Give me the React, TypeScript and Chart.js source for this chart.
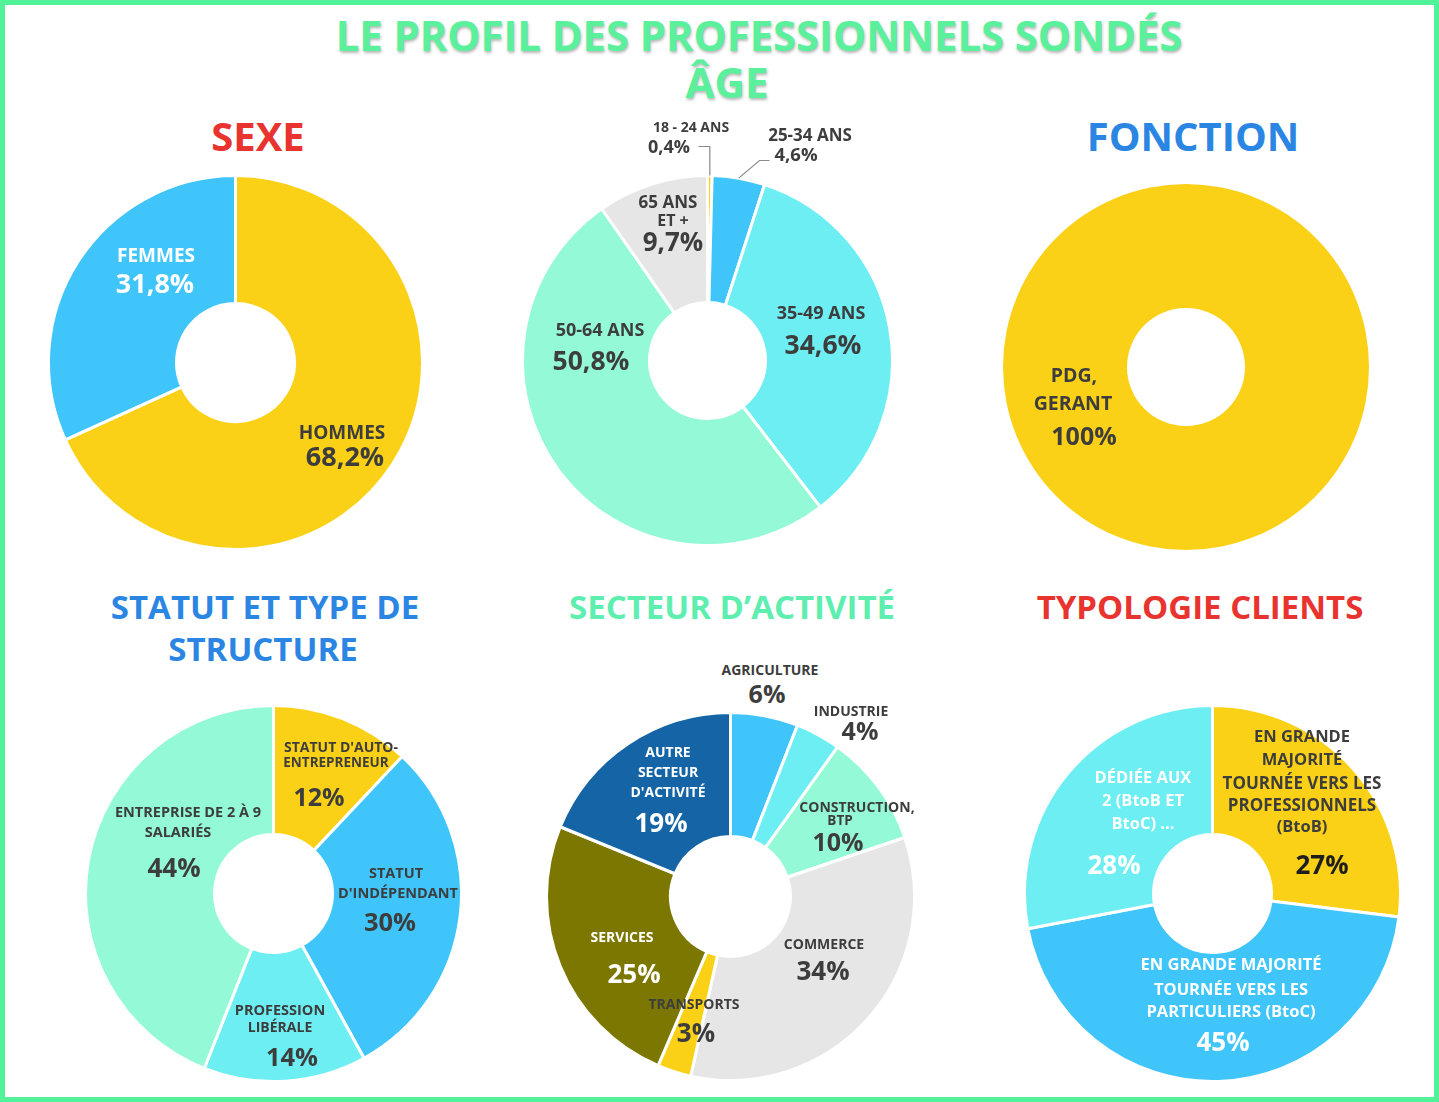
import React, { useEffect, useRef } from "react";
import { Chart, registerables } from "chart.js";

Chart.register(...registerables);

// ---------- DATA ----------
const sexeLabels = ["HOMMES", "FEMMES"];
const sexeValues = [68.2, 31.8];

const ageLabels = ["18 - 24 ANS", "25-34 ANS", "35-49 ANS", "50-64 ANS", "65 ANS ET +"];
const ageValues = [0.4, 4.6, 34.6, 50.8, 9.7];

const fonctionLabels = ["PDG, GERANT"];
const fonctionValues = [100];

const statutLabels = [
  "STATUT D'AUTO-ENTREPRENEUR",
  "STATUT D'INDÉPENDANT",
  "PROFESSION LIBÉRALE",
  "ENTREPRISE DE 2 À 9 SALARIÉS",
];
const statutValues = [12, 30, 14, 44];

const secteurLabels = [
  "AGRICULTURE",
  "INDUSTRIE",
  "CONSTRUCTION, BTP",
  "COMMERCE",
  "TRANSPORTS",
  "SERVICES",
  "AUTRE SECTEUR D'ACTIVITÉ",
];
const secteurValues = [6, 4, 10, 34, 3, 25, 19];

const typoLabels = [
  "EN GRANDE MAJORITÉ TOURNÉE VERS LES PROFESSIONNELS (BtoB)",
  "EN GRANDE MAJORITÉ TOURNÉE VERS LES PARTICULIERS (BtoC)",
  "DÉDIÉE AUX 2 (BtoB ET BtoC) ...",
];
const typoValues = [27, 45, 28];

// ---------- STYLE ----------
const YELLOW = "#FAD116";
const BLUE = "#3FC5FA";
const CYAN = "#6DEEF3";
const MINT = "#93F9D7";
const GRAY = "#E6E6E6";
const OLIVE = "#7C7700";
const DARKBLUE = "#1565A6";
const TXT = "#3D3D3D";
const WHITE = "#FFFFFF";
const FONT = "'Open Sans', 'DejaVu Sans', sans-serif";

const pct = (v: number) => String(v).replace(".", ",") + "%";

type LeaderDef = { index: number; elbowY: number; endX: number; endY: number; diag?: boolean };

function makeLeaderPlugin(leaders: LeaderDef[], offX: number, offY: number) {
  return {
    id: "leaders",
    afterDraw(chart: any) {
      const meta = chart.getDatasetMeta(0);
      const ctx = chart.ctx;
      ctx.save();
      ctx.strokeStyle = "#8A8A8A";
      ctx.lineWidth = 1.2;
      leaders.forEach((l) => {
        const arc = meta.data[l.index];
        const p = arc.getProps(["x", "y", "startAngle", "endAngle", "outerRadius"], true);
        const mid = (p.startAngle + p.endAngle) / 2;
        const sx = p.x + Math.cos(mid) * p.outerRadius;
        const sy = p.y + Math.sin(mid) * p.outerRadius;
        ctx.beginPath();
        ctx.moveTo(sx, sy);
        if (l.diag) {
          ctx.lineTo(l.endX - offX - 10, l.elbowY - offY);
          ctx.lineTo(l.endX - offX, l.endY - offY);
        } else {
          ctx.lineTo(sx, l.elbowY - offY);
          ctx.lineTo(l.endX - offX, l.endY - offY);
        }
        ctx.stroke();
      });
      ctx.restore();
    },
  };
}

type DonutProps = {
  cx: number;
  cy: number;
  r: number;
  inner: number;
  labels: string[];
  values: number[];
  colors: string[];
  border: number;
  padTop?: number;
  leaders?: LeaderDef[];
};

function Donut({ cx, cy, r, inner, labels, values, colors, border, padTop = 0, leaders }: DonutProps) {
  const ref = useRef<HTMLCanvasElement>(null);
  const size = 2 * r + border;
  const left = cx - size / 2;
  const top = cy - size / 2 - padTop;
  const h = size + padTop;
  useEffect(() => {
    const plugins: any[] = [];
    if (leaders) plugins.push(makeLeaderPlugin(leaders, left, top));
    const chart = new Chart(ref.current as HTMLCanvasElement, {
      type: "doughnut",
      data: {
        labels,
        datasets: [
          {
            data: values,
            backgroundColor: colors,
            borderColor: "#FFFFFF",
            borderWidth: border,
            hoverBorderWidth: border,
            hoverOffset: 0,
          } as any,
        ],
      },
      options: {
        responsive: false,
        maintainAspectRatio: false,
        animation: false,
        devicePixelRatio: 1,
        cutout: inner,
        layout: { padding: { top: padTop, left: 0, right: 0, bottom: 0 } },
        events: [],
        plugins: { legend: { display: false }, tooltip: { enabled: false } },
      } as any,
      plugins,
    });
    return () => chart.destroy();
  }, []);
  return (
    <canvas
      ref={ref}
      width={size}
      height={h}
      style={{ position: "absolute", left, top, width: size, height: h }}
    />
  );
}

type Txt = { t: string; x: number; y: number; s: number; c: string; w?: number };

function Label({ t, x, y, s, c, w }: Txt) {
  return (
    <div
      style={{
        position: "absolute",
        left: x,
        top: y,
        transform: "translate(-50%, -50%)",
        fontFamily: FONT,
        fontSize: s,
        fontWeight: w || 700,
        color: c,
        lineHeight: 1,
        whiteSpace: "nowrap",
      }}
    >
      {t}
    </div>
  );
}

const texts: Txt[] = [
  // SEXE
  { t: sexeLabels[1], x: 156, y: 255, s: 19, c: WHITE },
  { t: pct(sexeValues[1]), x: 155, y: 282, s: 27, c: WHITE },
  { t: sexeLabels[0], x: 342, y: 432, s: 19, c: TXT },
  { t: pct(sexeValues[0]), x: 345, y: 455, s: 27, c: TXT },
  // AGE
  { t: ageLabels[0], x: 691, y: 127, s: 14, c: TXT },
  { t: pct(ageValues[0]), x: 669, y: 146, s: 18, c: TXT },
  { t: ageLabels[1], x: 810, y: 134, s: 17, c: TXT },
  { t: pct(ageValues[1]), x: 796, y: 154, s: 18.5, c: TXT },
  { t: "65 ANS", x: 668, y: 201, s: 17, c: TXT },
  { t: "ET +", x: 673, y: 220, s: 16, c: TXT },
  { t: pct(ageValues[4]), x: 673, y: 241, s: 26, c: TXT },
  { t: ageLabels[2], x: 821, y: 312, s: 18, c: TXT },
  { t: pct(ageValues[2]), x: 823, y: 344, s: 26.5, c: TXT },
  { t: ageLabels[3], x: 600, y: 329, s: 18, c: TXT },
  { t: pct(ageValues[3]), x: 591, y: 360, s: 26.5, c: TXT },
  // FONCTION
  { t: "PDG,", x: 1074, y: 375, s: 19.5, c: TXT },
  { t: "GERANT", x: 1073, y: 403, s: 19.5, c: TXT },
  { t: pct(fonctionValues[0]), x: 1084, y: 435, s: 25, c: TXT },
  // STATUT
  { t: "STATUT D'AUTO-", x: 341, y: 747, s: 14, c: TXT },
  { t: "ENTREPRENEUR", x: 336, y: 763, s: 13.5, c: TXT },
  { t: pct(statutValues[0]), x: 319, y: 796, s: 25, c: TXT },
  { t: "STATUT", x: 396, y: 873, s: 14.5, c: TXT },
  { t: "D'INDÉPENDANT", x: 398, y: 893, s: 14.5, c: TXT },
  { t: pct(statutValues[1]), x: 390, y: 922, s: 25.5, c: TXT },
  { t: "PROFESSION", x: 280, y: 1010, s: 14.5, c: TXT },
  { t: "LIBÉRALE", x: 280, y: 1027, s: 14, c: TXT },
  { t: pct(statutValues[2]), x: 292, y: 1057, s: 25.5, c: TXT },
  { t: "ENTREPRISE DE 2 À 9", x: 188, y: 812, s: 14.5, c: TXT },
  { t: "SALARIÉS", x: 178, y: 832, s: 14.5, c: TXT },
  { t: pct(statutValues[3]), x: 174, y: 867, s: 26, c: TXT },
  // SECTEUR
  { t: secteurLabels[0], x: 770, y: 670, s: 14, c: TXT },
  { t: pct(secteurValues[0]), x: 767, y: 693, s: 25, c: TXT },
  { t: secteurLabels[1], x: 851, y: 711, s: 14, c: TXT },
  { t: pct(secteurValues[1]), x: 860, y: 730, s: 25, c: TXT },
  { t: "CONSTRUCTION,", x: 857, y: 807, s: 14, c: TXT },
  { t: "BTP", x: 840, y: 821, s: 13.5, c: TXT },
  { t: pct(secteurValues[2]), x: 838, y: 841, s: 25, c: TXT },
  { t: secteurLabels[3], x: 824, y: 944, s: 14, c: TXT },
  { t: pct(secteurValues[3]), x: 823, y: 970, s: 26, c: TXT },
  { t: secteurLabels[4], x: 694, y: 1004, s: 14, c: TXT },
  { t: pct(secteurValues[4]), x: 696, y: 1032, s: 26, c: TXT },
  { t: secteurLabels[5], x: 622, y: 937, s: 14, c: WHITE },
  { t: pct(secteurValues[5]), x: 634, y: 973, s: 26, c: WHITE },
  { t: "AUTRE", x: 668, y: 752, s: 14, c: WHITE },
  { t: "SECTEUR", x: 668, y: 772, s: 14, c: WHITE },
  { t: "D'ACTIVITÉ", x: 668, y: 792, s: 14, c: WHITE },
  { t: pct(secteurValues[6]), x: 661, y: 822, s: 26, c: WHITE },
  // TYPOLOGIE
  { t: "EN GRANDE", x: 1302, y: 736, s: 16.5, c: TXT },
  { t: "MAJORITÉ", x: 1302, y: 759, s: 16.5, c: TXT },
  { t: "TOURNÉE VERS LES", x: 1302, y: 782, s: 17, c: TXT },
  { t: "PROFESSIONNELS", x: 1302, y: 804, s: 17, c: TXT },
  { t: "(BtoB)", x: 1302, y: 826, s: 16.5, c: TXT },
  { t: pct(typoValues[0]), x: 1322, y: 864, s: 26, c: "#1E1E1E" },
  { t: "EN GRANDE MAJORITÉ", x: 1231, y: 964, s: 16.5, c: WHITE },
  { t: "TOURNÉE VERS LES", x: 1231, y: 989, s: 16.5, c: WHITE },
  { t: "PARTICULIERS (BtoC)", x: 1231, y: 1011, s: 16.5, c: WHITE },
  { t: pct(typoValues[1]), x: 1223, y: 1041, s: 26, c: WHITE },
  { t: "DÉDIÉE AUX", x: 1143, y: 777, s: 16.5, c: WHITE },
  { t: "2 (BtoB ET", x: 1143, y: 800, s: 16.5, c: WHITE },
  { t: "BtoC) ...", x: 1143, y: 823, s: 16.5, c: WHITE },
  { t: pct(typoValues[2]), x: 1114, y: 864, s: 26, c: WHITE },
];

type Title = { t: string; x: number; y: number; s: number; c: string; sx?: number; glow?: boolean };

const titles: Title[] = [
  { t: "LE PROFIL DES PROFESSIONNELS SONDÉS", x: 759, y: 35, s: 42, c: "#5AF09C", sx: 0.994, glow: true },
  { t: "ÂGE", x: 727, y: 82, s: 42, c: "#5AF09C", sx: 1, glow: true },
  { t: "SEXE", x: 258, y: 136, s: 40, c: "#E8332F" },
  { t: "FONCTION", x: 1193, y: 136, s: 40, c: "#2B86E3" },
  { t: "STATUT ET TYPE DE", x: 265, y: 606, s: 33, c: "#2B86E3" },
  { t: "STRUCTURE", x: 263, y: 648, s: 33, c: "#2B86E3" },
  { t: "SECTEUR D’ACTIVITÉ", x: 732, y: 606, s: 33, c: "#5EEFB0" },
  { t: "TYPOLOGIE CLIENTS", x: 1200, y: 606, s: 33, c: "#E8332F" },
];

function TitleText({ t, x, y, s, c, sx, glow }: Title) {
  return (
    <div
      style={{
        position: "absolute",
        left: x,
        top: y,
        transform: `translate(-50%, -50%) scaleX(${sx || 1})`,
        fontFamily: FONT,
        fontSize: s,
        fontWeight: 700,
        color: c,
        lineHeight: 1,
        whiteSpace: "nowrap",
        textShadow: glow ? "1px 2px 3px rgba(0,0,0,0.28)" : "none",
      }}
    >
      {t}
    </div>
  );
}

export default function App() {
  return (
    <div
      style={{
        position: "absolute",
        left: 0,
        top: 0,
        width: 1439,
        height: 1102,
        background: "#FFFFFF",
        overflow: "hidden",
      }}
    >
      <Donut cx={235} cy={362} r={187} inner={59} labels={sexeLabels} values={sexeValues} colors={[YELLOW, BLUE]} border={3} />
      <Donut
        cx={707}
        cy={360}
        r={185}
        inner={58}
        labels={ageLabels}
        values={ageValues}
        colors={[YELLOW, BLUE, CYAN, MINT, GRAY]}
        border={3}
        padTop={50}
        leaders={[
          { index: 0, elbowY: 146, endX: 698, endY: 146 },
          { index: 1, elbowY: 160, endX: 769, endY: 160, diag: true },
        ]}
      />
      <Donut cx={1186} cy={367} r={183} inner={59} labels={fonctionLabels} values={fonctionValues} colors={[YELLOW]} border={0} />
      <Donut cx={273} cy={893} r={188} inner={59} labels={statutLabels} values={statutValues} colors={[YELLOW, BLUE, CYAN, MINT]} border={3} />
      <Donut
        cx={730}
        cy={896}
        r={184}
        inner={60}
        labels={secteurLabels}
        values={secteurValues}
        colors={[BLUE, CYAN, MINT, GRAY, YELLOW, OLIVE, DARKBLUE]}
        border={3}
      />
      <Donut cx={1212} cy={893} r={188} inner={59} labels={typoLabels} values={typoValues} colors={[YELLOW, BLUE, CYAN]} border={3} />
      {titles.map((t, i) => (
        <TitleText key={"t" + i} {...t} />
      ))}
      {texts.map((t, i) => (
        <Label key={"l" + i} {...t} />
      ))}
      <div
        style={{
          position: "absolute",
          left: 0,
          top: 0,
          width: 1439,
          height: 1102,
          border: "5px solid #52F398",
          boxSizing: "border-box",
          pointerEvents: "none",
        }}
      />
    </div>
  );
}
